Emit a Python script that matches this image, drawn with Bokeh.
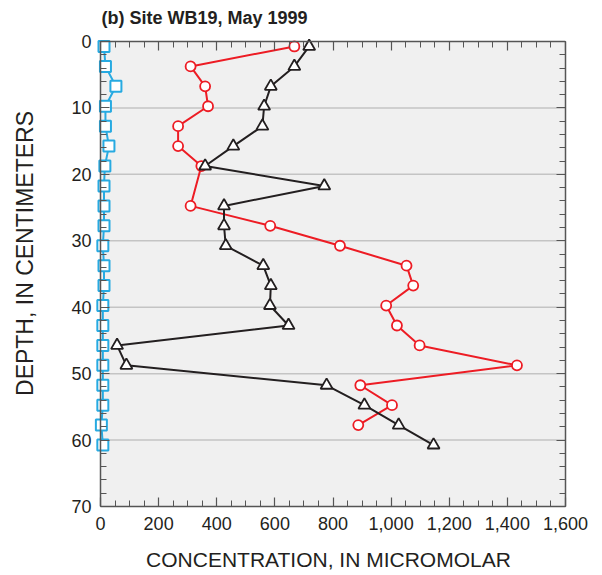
from bokeh.plotting import figure
from bokeh.models import (Range1d, LinearAxis, SingleIntervalTicker, NumeralTickFormatter,
                          CustomJSTickFormatter, BoxAnnotation, Label)
from bokeh.embed import file_html
from bokeh.resources import INLINE

# ---- data ----
depth = [0.75, 3.75, 6.75, 9.75, 12.75, 15.75, 18.75, 21.75, 24.75, 27.75, 30.75,
         33.75, 36.75, 39.75, 42.75, 45.75, 48.75, 51.75, 54.75, 57.75, 60.75]
blue_conc = [12, 17, 53, 17, 17, 29, 15, 12, 12, 12, 8, 12, 12, 8, 8, 8, 8, 8, 8, 3, 8]
black_conc = [718, 667, 586, 563, 557, 457, 360, 770, 425, 425, 431, 560, 586, 583,
              647, 57, 89, 778, 908, 1026, 1146]
red_depth = [0.75, 3.75, 6.75, 9.75, 12.75, 15.75, 18.75, 24.75, 27.75, 30.75,
             33.75, 36.75, 39.75, 42.75, 45.75, 48.75, 51.75, 54.75, 57.75]
red_conc = [667, 310, 360, 370, 267, 267, 347, 310, 584, 824, 1053, 1076, 983, 1020,
            1098, 1433, 894, 1003, 887]
grid_depths = [10, 20, 30, 40, 50, 60]
x_min, x_max = 0, 1600
y_min, y_max = 0, 70

title_text = "(b) Site WB19, May 1999"
x_label = "CONCENTRATION, IN MICROMOLAR"
y_label = "DEPTH, IN CENTIMETERS"

FONT = "Liberation Sans"
TXT = "#231f20"
AX = "#555555"
BLUE = "#27aae1"
RED = "#ed1c24"
BLACK = "#231f20"

# The frame is a little larger than the plotting box (white margin at the left and
# at the top) so that markers at x=0 are not clipped and the title fits inside it.
p = figure(width=602, height=575, x_range=Range1d(-31, x_max), y_range=Range1d(y_max, -6.17),
           output_backend="svg", toolbar_location=None,
           min_border_left=91, min_border_right=37, min_border_top=0, min_border_bottom=69,
           background_fill_color="white", border_fill_color="white")
p.outline_line_color = None

p.add_layout(BoxAnnotation(left=x_min, right=x_max, top=y_min, bottom=y_max,
                           fill_color="#f0f0f0", fill_alpha=1, line_color=None, level="image"))


def style_axis(ax, labels=True):
    ax.axis_line_color = AX
    ax.axis_line_width = 1.5
    ax.major_tick_line_color = AX
    ax.minor_tick_line_color = AX
    ax.major_tick_line_width = 1.2
    ax.minor_tick_line_width = 1.0
    ax.major_tick_in = 9
    ax.major_tick_out = 0
    ax.minor_tick_in = 6
    ax.minor_tick_out = 0
    ax.major_label_text_font = FONT
    ax.major_label_text_color = TXT
    ax.axis_label_text_font = FONT
    ax.axis_label_text_font_style = "normal"
    ax.axis_label_text_color = TXT
    if labels:
        ax.major_label_text_font_size = "18px"
    else:
        ax.major_label_text_font_size = "0px"
        ax.major_label_standoff = 0
        ax.formatter = CustomJSTickFormatter(code="return ''")


xa = p.xaxis[0]
xa.ticker = SingleIntervalTicker(interval=200, num_minor_ticks=4)
xa.formatter = NumeralTickFormatter(format="0,0")
xa.bounds = (x_min, x_max)
style_axis(xa)
xa.axis_label = x_label
xa.axis_label_text_font_size = "21px"
xa.major_label_standoff = 10
xa.axis_label_standoff = 15

# main left axis: only the tick labels and the axis title
ya = p.yaxis[0]
ya.ticker = SingleIntervalTicker(interval=10, num_minor_ticks=5)
ya.bounds = (y_min, y_max)
style_axis(ya)
ya.axis_line_color = None
ya.major_tick_line_color = None
ya.minor_tick_line_color = None
ya.axis_label = y_label
ya.axis_label_text_font_size = "23px"
ya.major_label_standoff = 0
ya.axis_label_standoff = 30

# left axis line and ticks placed at x = 0
yfix = LinearAxis(ticker=SingleIntervalTicker(interval=10, num_minor_ticks=5),
                  fixed_location=x_min, bounds=(y_min, y_max))
style_axis(yfix, labels=False)
p.add_layout(yfix, "left")

# top axis line and ticks placed at depth = 0
top = LinearAxis(ticker=SingleIntervalTicker(interval=200, num_minor_ticks=4),
                 fixed_location=y_min, bounds=(x_min, x_max))
style_axis(top, labels=False)
p.add_layout(top, "above")

right = LinearAxis(ticker=SingleIntervalTicker(interval=10, num_minor_ticks=5), bounds=(y_min, y_max))
style_axis(right, labels=False)
p.add_layout(right, "right")

p.xgrid.visible = False
p.ygrid.visible = False
# horizontal grid lines spanning only the plotting box
p.segment(x0=[x_min] * len(grid_depths), x1=[x_max] * len(grid_depths),
          y0=grid_depths, y1=grid_depths, line_color="#c4c4c4", line_width=1.5)

# blue series
p.line(blue_conc, depth, line_color=BLUE, line_width=2)
p.scatter(blue_conc, depth, marker="square", size=11, fill_color="white",
          line_color=BLUE, line_width=2)
# red series
p.line(red_conc, red_depth, line_color=RED, line_width=2)
p.scatter(red_conc, red_depth, marker="circle", size=10, fill_color="white",
          line_color=RED, line_width=1.8)
# black series
p.line(black_conc, depth, line_color=BLACK, line_width=2)
p.scatter(black_conc, depth, marker="triangle", size=12, fill_color="white",
          line_color=BLACK, line_width=1.8)

# title, inside the white top margin of the frame
p.add_layout(Label(x=x_min, y=-3.6, x_offset=1, text=title_text, text_font=FONT,
                   text_font_size="18px", text_font_style="bold", text_color=TXT,
                   text_baseline="alphabetic", text_align="left"))

open("out.html", "w").write(file_html(p, INLINE))
